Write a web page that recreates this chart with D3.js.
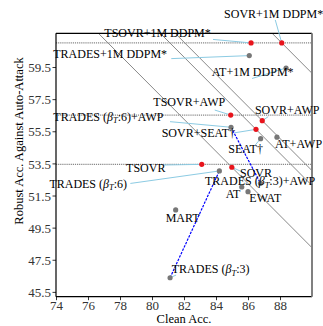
<!DOCTYPE html>
<html>
<head>
<meta charset="utf-8">
<script src="https://cdn.jsdelivr.net/npm/d3@7"></script>
<style>
    body { margin: 0; background: #fff; }
    svg { display: block; }
    .tick text { font-family: "Liberation Serif", serif; font-size: 13px; fill: #333; }
    .lbl { font-family: "Liberation Serif", serif; font-size: 12px; fill: #000; }
</style>
</head>
<body>
<svg id="chart" width="323" height="326"></svg>
<script>
// methods, clean accuracy, robust accuracy (auto-attack)
const names = ['TSOVR+1M DDPM*', 'SOVR+1M DDPM*', 'TRADES+1M DDPM*', 'AT+1M DDPM*',
    'TSOVR+AWP', 'SOVR+AWP', 'TRADES (β_T:6)+AWP', 'SOVR+SEAT†', 'SEAT†', 'AT+AWP',
    'TSOVR', 'TRADES (β_T:6)', 'SOVR', 'TRADES (β_T:3)+AWP', 'AT', 'EWAT', 'MART', 'TRADES (β_T:3)'];
const cleanAcc = [86.19, 88.11, 86.08, 88.38,
    84.92, 86.89, 84.94, 86.50, 86.79, 87.81,
    83.11, 84.21, 84.99, 86.78, 85.61, 86.00, 81.48, 81.13];
const robustAcc = [61.00, 61.00, 60.21, 59.44,
    56.51, 56.16, 55.75, 55.62, 55.04, 55.13,
    53.44, 53.03, 53.26, 52.26, 52.03, 51.74, 50.60, 46.38];
const ours = ['TSOVR+1M DDPM*', 'SOVR+1M DDPM*', 'TSOVR+AWP', 'SOVR+AWP', 'SOVR+SEAT†', 'TSOVR', 'SOVR'];
const hLineThrough = ['TSOVR+1M DDPM*', 'TSOVR+AWP', 'TSOVR'];
const isoLineThrough = ['SOVR+1M DDPM*', 'SOVR+AWP', 'SOVR+SEAT†', 'SOVR'];
const tradesPairs = [['TRADES (β_T:3)', 'TRADES (β_T:6)'], ['TRADES (β_T:6)+AWP', 'TRADES (β_T:3)+AWP']];
const xTicks = [74, 76, 78, 80, 82, 84, 86, 88];
const yTicks = [45.5, 47.5, 49.5, 51.5, 53.5, 55.5, 57.5, 59.5];

// label placement in pixels: text start / baseline offset and leader end, relative to the point
const labelLayout = {
    'TSOVR+1M DDPM*': [-146.7, -6, -38, -3.5],
    'SOVR+1M DDPM*': [-57.7, -25, -6.5, -23],
    'TRADES+1M DDPM*': [-196, 2.3, -78, 3],
    'AT+1M DDPM*': [-74.3, 8.3, -34, 10.5],
    'TSOVR+AWP': [-77.4, -9, -16, -5],
    'SOVR+AWP': [-7.3, -6.7, 6, -4],
    'TRADES (β_T:6)+AWP': [-177.7, -6.6, -61, -5.6],
    'SOVR+SEAT†': [-94.3, 7.4, -21, 3.4],
    'SEAT†': [-32.4, 14, -5.5, 6.5],
    'AT+AWP': [-2, 10.7, null, null],
    'TSOVR': [-75.7, 7.4, -39.5, 0.7],
    'TRADES (β_T:6)': [-170, 16.7, -89, 12.5],
    'SOVR': [8.2, 10, 10, 4.5],
    'TRADES (β_T:3)+AWP': [-55.5, 1.7, null, null],
    'AT': [-16, 10.6, null, null],
    'EWAT': [1.3, 10, null, null],
    'MART': [-10, 11.7, null, null],
    'TRADES (β_T:3)': [1.7, -4.4, 6, -2.7]
};

const svg = d3.select('#chart');
const margin = {left: 56, right: 11, top: 33.3, bottom: 29.3};
const width = 323 - margin.left - margin.right;
const height = 326 - margin.top - margin.bottom;

const xScale = d3.scaleLinear().domain([74, 90]).range([0, width]);
const yScale = d3.scaleLinear().domain([45.2, 61.6]).range([height, 0]);

const chart = svg.append('g')
    .attr('transform', 'translate(' + margin.left + ',' + margin.top + ')');

chart.append('clipPath').attr('id', 'plot-clip')
    .append('rect').attr('width', width).attr('height', height);

const points = names.map(function (n, i) {
    return {name: n, clean: cleanAcc[i], robust: robustAcc[i], ours: ours.indexOf(n) >= 0};
});
const byName = {};
points.forEach(function (p) { byName[p.name] = p; });

const lines = chart.append('g').attr('clip-path', 'url(#plot-clip)');

// iso lines: clean + robust = const
isoLineThrough.forEach(function (n) {
    const s = byName[n].clean + byName[n].robust;
    lines.append('line')
        .attr('x1', xScale(70)).attr('y1', yScale(s - 70))
        .attr('x2', xScale(95)).attr('y2', yScale(s - 95))
        .attr('stroke', '#555')
        .attr('stroke-width', 0.7);
});

hLineThrough.forEach(function (n) {
    lines.append('line')
        .attr('x1', 0).attr('x2', width)
        .attr('y1', yScale(byName[n].robust)).attr('y2', yScale(byName[n].robust))
        .attr('stroke', '#888')
        .attr('stroke-width', 1.3)
        .attr('stroke-dasharray', '1.2,0.9');
});

// axes
const xAxis = chart.append('g')
    .attr('transform', 'translate(0,' + height + ')')
    .call(d3.axisBottom(xScale).tickValues(xTicks).tickSize(3.5).tickPadding(1));
const yAxis = chart.append('g')
    .call(d3.axisLeft(yScale).tickValues(yTicks).tickFormat(d3.format('.1f')).tickSize(3.5).tickPadding(1.5));
xAxis.select('.domain').remove();
yAxis.select('.domain').remove();
xAxis.selectAll('.tick line').attr('stroke', '#000').attr('stroke-width', 0.8);
yAxis.selectAll('.tick line').attr('stroke', '#000').attr('stroke-width', 0.8);
yAxis.selectAll('.tick text').attr('dy', '0.36em');

chart.append('line').attr('x1', 0).attr('x2', width).attr('y1', 0).attr('y2', 0)
    .attr('stroke', '#000').attr('stroke-width', 1.2);
chart.append('line').attr('x1', 0).attr('x2', width).attr('y1', height).attr('y2', height)
    .attr('stroke', '#000').attr('stroke-width', 1.2);
chart.append('line').attr('x1', 0).attr('x2', 0).attr('y1', 0).attr('y2', height)
    .attr('stroke', '#000').attr('stroke-width', 1.2);
chart.append('line').attr('x1', width).attr('x2', width).attr('y1', 0).attr('y2', height)
    .attr('stroke', '#808080').attr('stroke-width', 2);

// leader lines
points.forEach(function (p) {
    const lay = labelLayout[p.name];
    if (lay[2] === null) return;
    chart.append('line')
        .attr('x1', xScale(p.clean)).attr('y1', yScale(p.robust))
        .attr('x2', xScale(p.clean) + lay[2]).attr('y2', yScale(p.robust) + lay[3])
        .attr('stroke', '#8ccbe3')
        .attr('stroke-width', 1);
});

// TRADES beta lines
tradesPairs.forEach(function (pair) {
    const a = byName[pair[0]], b = byName[pair[1]];
    chart.append('line')
        .attr('x1', xScale(a.clean)).attr('y1', yScale(a.robust))
        .attr('x2', xScale(b.clean)).attr('y2', yScale(b.robust))
        .attr('stroke', '#0000ff')
        .attr('stroke-width', 1.2)
        .attr('stroke-dasharray', '2.5,1.2');
});

chart.selectAll('.pt')
    .data(points)
    .enter()
    .append('circle')
    .attr('class', 'pt')
    .attr('cx', function (d) { return xScale(d.clean); })
    .attr('cy', function (d) { return yScale(d.robust); })
    .attr('r', 2.6)
    .attr('fill', function (d) { return d.ours ? '#e8141c' : '#777'; });

// labels
points.forEach(function (p) {
    const lay = labelLayout[p.name];
    const t = chart.append('text')
        .attr('class', 'lbl')
        .attr('x', xScale(p.clean) + lay[0])
        .attr('y', yScale(p.robust) + lay[1]);
    const parts = p.name.split('β_T');
    t.append('tspan').text(parts[0]);
    if (parts.length > 1) {
        t.append('tspan').attr('font-style', 'italic').text('β');
        t.append('tspan').attr('font-style', 'italic').attr('font-size', '8.5px').attr('dy', 2.5).text('T');
        t.append('tspan').attr('dy', -2.5).text(parts[1]);
    }
});

svg.append('text')
    .attr('class', 'lbl')
    .attr('x', margin.left + width / 2)
    .attr('y', 322.5)
    .attr('text-anchor', 'middle')
    .style('font-size', '12.5px')
    .text('Clean Acc.');

svg.append('text')
    .attr('class', 'lbl')
    .attr('transform', 'translate(22.5,141) rotate(-90)')
    .attr('text-anchor', 'middle')
    .style('font-size', '12.5px')
    .text('Robust Acc. Against Auto-Attack');
</script>
</body>
</html>
